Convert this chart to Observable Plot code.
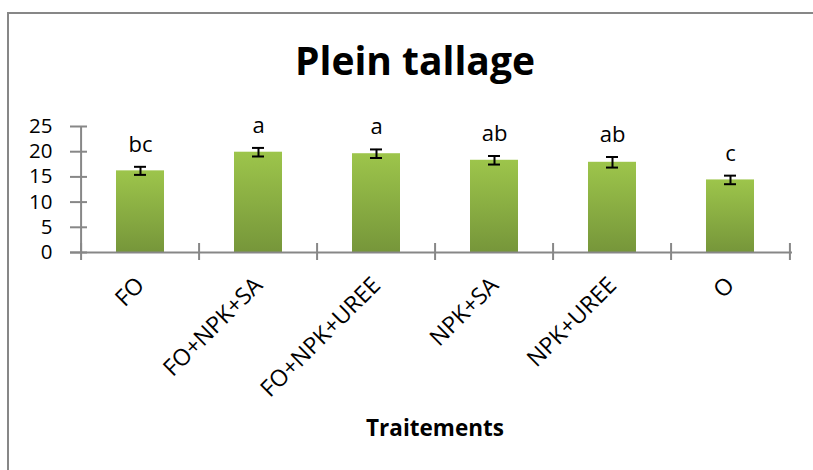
<!DOCTYPE html>
<html>
<head>
<meta charset="utf-8">
<script src="https://cdn.jsdelivr.net/npm/d3@7"></script>
<script src="https://cdn.jsdelivr.net/npm/@observablehq/plot@0.6"></script>
<style>
  html, body { margin: 0; padding: 0; background: #fff; overflow: hidden; }
  body { width: 813px; height: 470px; position: relative; font-family: "Open Sans", sans-serif; }
  #frame { position: absolute; left: 7px; top: 12px; width: 804px; height: 456px; border-left: 2px solid #878787; border-top: 2px solid #878787; }
  #title { position: absolute; left: 0; width: 830px; top: 34px; text-align: center; font-weight: 700; font-size: 39px; line-height: 52px; color: #000; }
  #xlabel { position: absolute; left: 0; width: 870px; top: 413px; text-align: center; font-weight: 700; font-size: 22.5px; line-height: 30px; color: #000; }
  #chart { position: absolute; left: 0; top: 100px; }
</style>
</head>
<body>
<div id="frame"></div>
<div id="title">Plein tallage</div>
<div id="chart"></div>
<div id="xlabel">Traitements</div>
<script>
const categories = ["FO", "FO+NPK+SA", "FO+NPK+UREE", "NPK+SA", "NPK+UREE", "O"];
const means = [16.2, 19.9, 19.6, 18.3, 17.9, 14.4];
const errors = [0.8, 0.85, 0.85, 0.85, 1.05, 0.85];
const letters = ["bc", "a", "a", "ab", "ab", "c"];
const yTicks = [0, 5, 10, 15, 20, 25];

const data = categories.map((c, i) => ({cat: c, mean: means[i], se: errors[i], letter: letters[i]}));

const W = 813, H = 300, mL = 79, mR = 21, mT = 26, mB = 148;
const step = (W - mL - mR) / categories.length;
const frameH = H - mT - mB;
const axisColor = "#878787";

const plot = Plot.plot({
  width: W, height: H,
  marginLeft: mL, marginRight: mR, marginTop: mT, marginBottom: mB,
  style: {fontFamily: "'Open Sans', sans-serif", fontSize: "20px", color: "#000", background: "transparent", overflow: "visible"},
  x: {domain: categories, paddingInner: 0.59, paddingOuter: 0.295, label: null},
  y: {domain: [0, 25], ticks: yTicks, label: null},
  marks: [
    Plot.barY(data, {x: "cat", y: "mean", fill: "url(#barGrad)"}),
    // axis lines
    Plot.ruleY([0], {stroke: axisColor, strokeWidth: 2, insetLeft: -9}),
    Plot.ruleX([categories[0]], {stroke: axisColor, strokeWidth: 2, dx: -step / 2}),
    // y ticks crossing the axis
    Plot.ruleY(yTicks, {stroke: axisColor, strokeWidth: 2, insetLeft: -9, insetRight: W - mL - mR - 8}),
    // x ticks at band boundaries
    Plot.ruleX(categories, {stroke: axisColor, strokeWidth: 2, dx: -step / 2, insetTop: frameH - 9, insetBottom: -8}),
    Plot.ruleX([categories[categories.length - 1]], {stroke: axisColor, strokeWidth: 2, dx: step / 2, insetTop: frameH - 9, insetBottom: -8}),
    // error bars
    Plot.ruleX(data, {x: "cat", y1: d => d.mean - d.se, y2: d => d.mean + d.se, stroke: "#000", strokeWidth: 2}),
    Plot.tickY(data, {x: "cat", y: d => d.mean + d.se, stroke: "#000", strokeWidth: 2, inset: 18}),
    Plot.tickY(data, {x: "cat", y: d => d.mean - d.se, stroke: "#000", strokeWidth: 2, inset: 18}),
    // significance letters
    Plot.text(data, {x: "cat", y: d => d.mean + d.se, text: "letter", dy: -22, fontSize: 22, fill: "#000"}),
    Plot.axisY({ticks: yTicks, tickSize: 0, tickPadding: 27, fontSize: 20.5, label: null}),
    Plot.axisX({tickSize: 0, tickPadding: 29, tickRotate: -45, fontSize: 23, label: null})
  ]
});

d3.select(plot).insert("defs", ":first-child").html(
  '<linearGradient id="barGrad" x1="0" y1="0" x2="0" y2="1">' +
  '<stop offset="0%" stop-color="#9dc54b"/>' +
  '<stop offset="100%" stop-color="#76963a"/>' +
  '</linearGradient>'
);

document.getElementById("chart").appendChild(plot);
</script>
</body>
</html>
